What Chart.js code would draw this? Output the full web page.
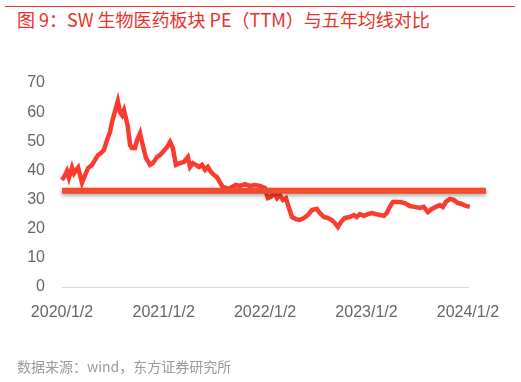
<!DOCTYPE html>
<html>
<head>
<meta charset="utf-8">
<script src="https://cdn.jsdelivr.net/npm/chart.js@4"></script>
<style>
  html, body { margin: 0; padding: 0; background: #fff; }
  #wrap { position: relative; width: 521px; height: 382px; overflow: hidden; }
  #rule { position: absolute; left: 5px; top: 6px; width: 510px; height: 1px; background: #e8392c; }
  #title { position: absolute; left: 17px; top: 6px; font: 18px "Noto Sans CJK SC", "Liberation Sans", sans-serif; color: #e8312a; white-space: nowrap; }
  #source { position: absolute; left: 17px; top: 356px; font: 14px "Noto Sans CJK SC", sans-serif; color: #9a9a9a; white-space: nowrap; }
  #chart { position: absolute; left: 0; top: 0; }
</style>
</head>
<body>
<div id="wrap">
  <div id="rule"></div>
  <div id="title">图 9：SW 生物医药板块 PE（TTM）与五年均线对比</div>
  <canvas id="chart" width="521" height="382"></canvas>
  <div id="source">数据来源：wind，东方证券研究所</div>
</div>
<script>
// days counted from 2020/1/2
const dayIdx = [0, 11, 18, 25, 36, 43, 50, 58, 65, 72, 83, 94, 108, 119, 130, 140, 151, 162, 173, 180,
  187, 194, 201, 209, 216, 223, 230, 237, 245, 252, 263, 270, 281, 288, 302, 317, 327, 342, 353, 363,
  378, 389, 399, 410, 425, 439, 453, 461, 471, 482, 493, 504, 515, 525, 536, 547, 558, 568, 579, 590,
  597, 612, 626, 640, 658, 676, 694, 712, 730, 741, 752, 763, 774, 784, 795, 806, 817, 828, 842, 856,
  871, 885, 900, 917, 928, 943, 957, 971, 982, 993, 1004, 1018, 1036, 1051, 1061, 1072, 1087, 1101, 1115, 1130,
  1144, 1159, 1169, 1180, 1191, 1202, 1216, 1234, 1252, 1270, 1288, 1302, 1317, 1331, 1346, 1360, 1371, 1382, 1396, 1410,
  1425, 1439, 1454, 1468, 1475];
const peTTM = [36.7, 38.4, 39.8, 37.5, 41, 39, 40, 41, 38.4, 35.8, 38.4, 40.8, 41.9, 43.6, 45.3, 46, 47, 50.4, 53.2, 56.6,
  59, 61.4, 63.8, 60, 59, 60.7, 58, 55, 48.7, 47.7, 47.7, 50.4, 52.8, 49.8, 44.3, 41.9, 42.5, 44.6, 45.3, 46.3,
  48, 49.8, 47.7, 41.9, 42.5, 42.9, 44.6, 41.2, 42.5, 41.9, 41.2, 41.9, 40.2, 41.2, 39.5, 38.4, 37.7, 36, 34.3, 34,
  33.5, 34.3, 35, 34.7, 35.3, 34.7, 35, 34.7, 34, 30.5, 30.9, 32.3, 30.5, 31.6, 29.9, 30.5, 27.1, 24, 23.3, 23,
  23.7, 24.7, 26.4, 26.8, 25.4, 24, 23.7, 23, 22, 20.6, 22.3, 23.7, 24, 24.7, 24, 25, 24.4, 25, 25.4, 25,
  24.7, 24.4, 25.4, 27.5, 29.2, 29.2, 29.2, 28.8, 27.8, 27.5, 27.1, 27.5, 25.7, 26.8, 27.5, 28.1, 27.5, 29.2, 30.2, 29.9,
  28.8, 28.5, 27.8, 27.5, 26.8];
const avgDays = [0, 1526];
const avgPE = [33, 33];
const tickDays = [0, 366, 731, 1096, 1461];
const tickLabels = ['2020/1/2', '2021/1/2', '2022/1/2', '2023/1/2', '2024/1/2'];

const shadowPlugin = {
  id: 'avgShadow',
  beforeDatasetDraw(chart, args) {
    if (args.index === 1) {
      const c = chart.ctx;
      c.save();
      c.shadowColor = 'rgba(0,0,0,0.35)';
      c.shadowBlur = 4;
      c.shadowOffsetY = 2;
    }
  },
  afterDatasetDraw(chart, args) {
    if (args.index === 1) chart.ctx.restore();
  }
};

new Chart(document.getElementById('chart'), {
  type: 'line',
  data: {
    datasets: [
      {
        label: 'PE(TTM)',
        data: dayIdx.map((d, i) => ({ x: d, y: peTTM[i] })),
        borderColor: '#fb3b2e',
        borderWidth: 4.5,
        pointRadius: 0,
        tension: 0,
        clip: false,
        order: 1
      },
      {
        label: '五年均线',
        data: avgDays.map((d, i) => ({ x: d, y: avgPE[i] })),
        borderColor: '#f24a2b',
        borderWidth: 6,
        pointRadius: 0,
        clip: false,
        order: 0
      }
    ]
  },
  options: {
    responsive: false,
    animation: false,
    layout: { padding: { left: 0, right: 52, top: 83, bottom: 55 } },
    plugins: { legend: { display: false }, tooltip: { enabled: false } },
    scales: {
      x: {
        type: 'linear',
        min: 0,
        max: 1465,
        afterBuildTicks: axis => { axis.ticks = tickDays.map(v => ({ value: v })); },
        afterFit: axis => { axis.height = 40; },
        grid: { display: false },
        border: { display: false },
        ticks: {
          color: '#666',
          font: { family: 'Liberation Sans', size: 16 },
          padding: 8,
          maxRotation: 0,
          autoSkip: false,
          callback: v => tickLabels[tickDays.indexOf(v)]
        }
      },
      y: {
        min: 0,
        max: 70,
        afterFit: axis => { axis.width = 62; },
        grid: {
          drawTicks: false,
          color: ctx => ctx.tick.value === 0 ? '#d9d9d9' : 'rgba(0,0,0,0)',
          lineWidth: 1
        },
        border: { display: false },
        ticks: {
          stepSize: 10,
          color: '#666',
          font: { family: 'Liberation Sans', size: 16 },
          padding: 17
        }
      }
    }
  },
  plugins: [shadowPlugin]
});
</script>
</body>
</html>
